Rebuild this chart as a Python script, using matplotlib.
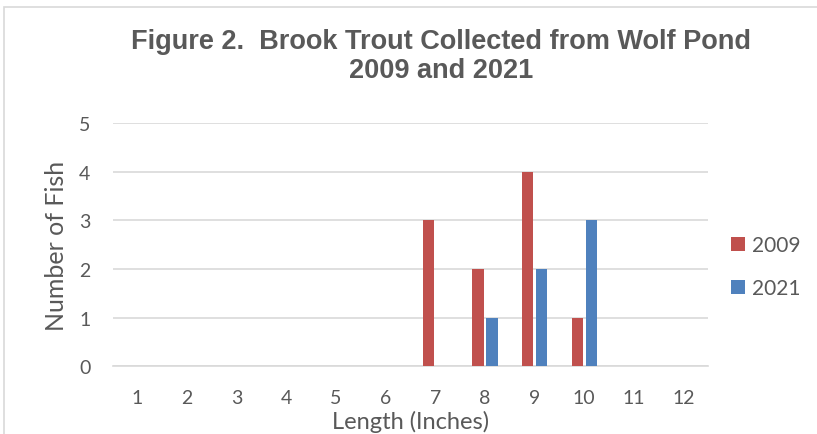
import numpy as np
import matplotlib.pyplot as plt
from matplotlib.patches import Rectangle

# Brook trout counts by length class
lengths = [1, 2, 3, 4, 5, 6, 7, 8, 9, 10, 11, 12]
fish_2009 = [0, 0, 0, 0, 0, 0, 3, 2, 4, 1, 0, 0]
fish_2021 = [0, 0, 0, 0, 0, 0, 0, 1, 2, 3, 0, 0]
series_names = ["2009", "2021"]

red = "#c0504d"
blue = "#4f81bd"
text_gray = "#595959"
grid_gray = "#d9d9d9"

plt.rcParams['font.family'] = ['Lato', 'DejaVu Sans']

fig = plt.figure(figsize=(8.17, 4.35), dpi=100)
ax = fig.add_axes([0.138, 0.156, 0.729, 0.559])

x = np.arange(len(lengths))
w = 0.23
off = 0.142
b1 = ax.bar(x - off, fish_2009, width=w, color=red, label=series_names[0], zorder=3)
b2 = ax.bar(x + off, fish_2021, width=w, color=blue, label=series_names[1], zorder=3)

ax.set_xlim(-0.5, len(lengths) - 0.5)
ax.set_ylim(0, 5)
ax.set_yticks(range(6))
ax.set_xticks(x)
ax.set_xticklabels([str(v) for v in lengths])
ax.yaxis.grid(True, color=grid_gray, lw=1.2, zorder=0)
ax.set_axisbelow(True)
for s in ["top", "right", "left"]:
    ax.spines[s].set_visible(False)
ax.spines["bottom"].set_color(grid_gray)
ax.spines["bottom"].set_linewidth(1.2)
ax.tick_params(length=0, labelsize=14, colors=text_gray)
ax.tick_params(axis='x', pad=16.5)
ax.tick_params(axis='y', pad=16)

ax.set_xlabel("Length (Inches)", fontsize=17, color=text_gray, labelpad=3)
ax.set_ylabel("Number of Fish", fontsize=18, color=text_gray, labelpad=8)

fig.text(0.54, 0.871, "Figure 2.  Brook Trout Collected from Wolf Pond\n2009 and 2021",
         ha="center", va="center", fontsize=19.5, fontweight="bold",
         color=text_gray, family=["Liberation Sans", "DejaVu Sans"], linespacing=1.15)

leg = fig.legend(handles=[b1, b2], loc="center left", bbox_to_anchor=(0.895, 0.385),
                 frameon=False, fontsize=15, handlelength=0.67, handleheight=0.67,
                 handletextpad=0.35, labelspacing=1.1, borderpad=0, borderaxespad=0)
for t in leg.get_texts():
    t.set_color(text_gray)

# chart border (light gray, partly cut off)
fig.patches.append(Rectangle((4 / 817, -0.1), 1.2, 1.1 - 8 / 435,
                             transform=fig.transFigure, fill=False,
                             edgecolor="#d9d9d9", lw=1.2))

fig.savefig("out.png", dpi=100)
